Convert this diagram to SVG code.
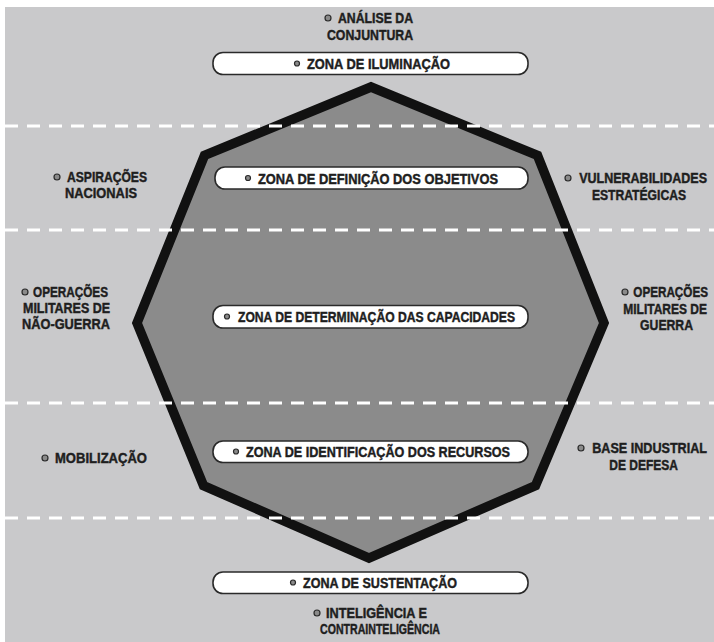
<svg xmlns="http://www.w3.org/2000/svg" width="714" height="642" viewBox="0 0 714 642">
  <defs>
    <style>
      .lbl { font-family: "Liberation Sans", Arial, sans-serif; font-weight: bold; font-size: 15px; fill: #1e1e1e; stroke: #1e1e1e; stroke-width: 0.45; }
      .end { text-anchor: end; }
      .pill { fill: #ffffff; stroke: #2a2a2a; stroke-width: 1.6; }
      .dot { fill: #8a8a8a; stroke: #2a2a2a; stroke-width: 1.2; }
      .divider { stroke: #ffffff; stroke-width: 3; stroke-dasharray: 13 9; fill: none; }
    </style>
  </defs>

  <!-- page -->
  <rect x="0" y="0" width="714" height="642" fill="#ffffff"/>
  <rect x="5" y="7" width="709" height="635" fill="#c9c9cb"/>

  <!-- octagon -->
  <g id="octagon">
    <polygon points="371,87 204.5,155.4 137,323 203.5,485.6 369,558 535.5,485.6 604,323 537.5,155.4"
             fill="#8b8b8b" stroke="#111111" stroke-width="9.5" stroke-linejoin="miter"/>
  </g>

  <!-- zone dividers -->
  <g id="dividers">
    <line class="divider" x1="5" y1="126" x2="714" y2="126"/>
    <line class="divider" x1="5" y1="230" x2="714" y2="230"/>
    <line class="divider" x1="5" y1="403" x2="714" y2="403"/>
    <line class="divider" x1="5" y1="518" x2="714" y2="518"/>
  </g>

  <!-- zone pills -->
  <g id="zona-iluminacao">
    <rect class="pill" x="213" y="52.5" width="315" height="22" rx="10"/>
    <circle class="dot" cx="297" cy="63.5" r="2.5"/>
    <text class="lbl" x="307" y="68.5" textLength="143" lengthAdjust="spacingAndGlyphs">ZONA DE ILUMINAÇÃO</text>
  </g>
  <g id="zona-definicao">
    <rect class="pill" x="215" y="167" width="313" height="22" rx="10"/>
    <circle class="dot" cx="248" cy="178" r="2.5"/>
    <text class="lbl" x="258" y="183.5" textLength="240" lengthAdjust="spacingAndGlyphs">ZONA DE DEFINIÇÃO DOS OBJETIVOS</text>
  </g>
  <g id="zona-determinacao">
    <rect class="pill" x="213" y="305.5" width="315" height="22.5" rx="10"/>
    <circle class="dot" cx="227" cy="316.5" r="2.5"/>
    <text class="lbl" x="238" y="322" textLength="277" lengthAdjust="spacingAndGlyphs">ZONA DE DETERMINAÇÃO DAS CAPACIDADES</text>
  </g>
  <g id="zona-identificacao">
    <rect class="pill" x="213" y="441" width="315" height="21.5" rx="10"/>
    <circle class="dot" cx="236" cy="451.5" r="2.5"/>
    <text class="lbl" x="246" y="457" textLength="264" lengthAdjust="spacingAndGlyphs">ZONA DE IDENTIFICAÇÃO DOS RECURSOS</text>
  </g>
  <g id="zona-sustentacao">
    <rect class="pill" x="213" y="572" width="315" height="21.5" rx="10"/>
    <circle class="dot" cx="293" cy="582.5" r="2.5"/>
    <text class="lbl" x="303" y="588" textLength="154" lengthAdjust="spacingAndGlyphs">ZONA DE SUSTENTAÇÃO</text>
  </g>

  <!-- surrounding factors -->
  <g id="analise-conjuntura">
    <circle class="dot" cx="328" cy="18" r="3"/>
    <text class="lbl" x="338" y="23" textLength="75" lengthAdjust="spacingAndGlyphs">ANÁLISE DA</text>
    <text class="lbl" x="327" y="40" textLength="86" lengthAdjust="spacingAndGlyphs">CONJUNTURA</text>
  </g>
  <g id="aspiracoes-nacionais">
    <circle class="dot" cx="57" cy="177" r="3"/>
    <text class="lbl" x="67" y="182" textLength="80" lengthAdjust="spacingAndGlyphs">ASPIRAÇÕES</text>
    <text class="lbl" x="65" y="198" textLength="72" lengthAdjust="spacingAndGlyphs">NACIONAIS</text>
  </g>
  <!-- right-hand labels: narrowed with a horizontal scale so they stay clear of the edge -->
  <g id="vulnerabilidades-estrategicas">
    <circle class="dot" cx="568" cy="178" r="3"/>
    <text class="lbl end" transform="translate(707,183) scale(0.835,1)">VULNERABILIDADES</text>
    <text class="lbl end" transform="translate(686,200) scale(0.81,1)">ESTRATÉGICAS</text>
  </g>
  <g id="operacoes-nao-guerra">
    <circle class="dot" cx="25" cy="292" r="3"/>
    <text class="lbl" x="33" y="297" textLength="75" lengthAdjust="spacingAndGlyphs">OPERAÇÕES</text>
    <text class="lbl" x="23" y="313" textLength="87" lengthAdjust="spacingAndGlyphs">MILITARES DE</text>
    <text class="lbl" x="22" y="329" textLength="88" lengthAdjust="spacingAndGlyphs">NÃO-GUERRA</text>
  </g>
  <g id="operacoes-guerra">
    <circle class="dot" cx="625" cy="292" r="3"/>
    <text class="lbl end" transform="translate(708,297) scale(0.78,1)">OPERAÇÕES</text>
    <text class="lbl end" transform="translate(707,314) scale(0.8,1)">MILITARES DE</text>
    <text class="lbl end" transform="translate(693,330) scale(0.815,1)">GUERRA</text>
  </g>
  <g id="mobilizacao">
    <circle class="dot" cx="45" cy="458" r="3"/>
    <text class="lbl" x="55" y="463" textLength="92" lengthAdjust="spacingAndGlyphs">MOBILIZAÇÃO</text>
  </g>
  <g id="base-industrial">
    <circle class="dot" cx="581" cy="448" r="3"/>
    <text class="lbl end" transform="translate(707,453) scale(0.84,1)">BASE INDUSTRIAL</text>
    <text class="lbl end" transform="translate(678,470) scale(0.8,1)">DE DEFESA</text>
  </g>
  <g id="inteligencia">
    <circle class="dot" cx="317" cy="613" r="3"/>
    <text class="lbl" x="326" y="618" textLength="101" lengthAdjust="spacingAndGlyphs">INTELIGÊNCIA E</text>
    <text class="lbl" x="320" y="634" textLength="120" lengthAdjust="spacingAndGlyphs">CONTRAINTELIGÊNCIA</text>
  </g>
</svg>
